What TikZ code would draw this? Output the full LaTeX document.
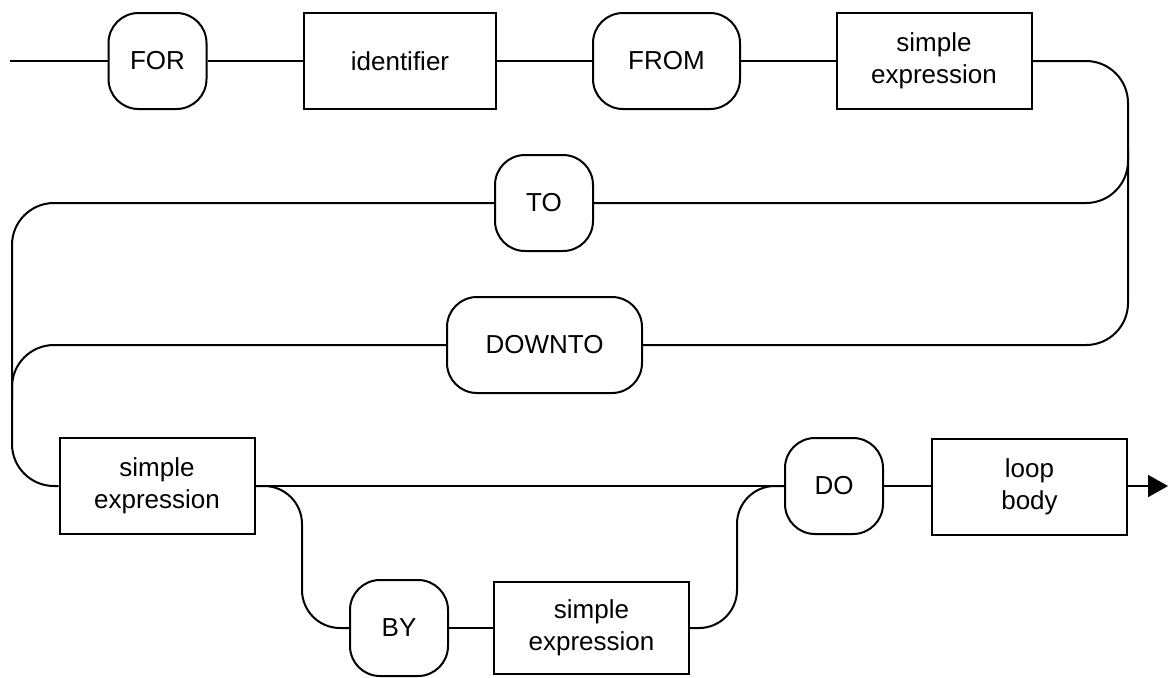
\documentclass[tikz,border=0pt]{standalone}
\usepackage{fontspec}
\setmainfont{Liberation Sans}
\usetikzlibrary{arrows.meta}
\begin{document}
\begin{tikzpicture}[x=0.5pt, y=-0.5pt,
    every node/.style={font=\fontsize{13pt}{16pt}\selectfont, align=center, inner sep=0pt},
    kw/.style={draw, line width=1pt, rounded corners=15pt, minimum width=49pt, minimum height=48pt},
    kwwide/.style={kw, minimum width=97.5pt},
    nt/.style={draw, line width=1pt, minimum width=97.5pt, minimum height=48pt},
    wire/.style={line width=1pt},
    curvewire/.style={wire, rounded corners=21pt},
    smallcurve/.style={wire, rounded corners=19pt}]
  \useasboundingbox (0,0) rectangle (1169,677);

  % top row
  \node[kw] (for) at (157.5,61) {FOR};
  \node[nt, minimum width=96pt] (ident) at (400,61) {identifier};
  \node[kw, minimum width=73.5pt] (from) at (666.5,61) {FROM};
  \node[nt] (se1) at (934,61) {simple\\expression};

  % TO / DOWNTO alternatives
  \node[kw] (to) at (544,203) {TO};
  \node[kwwide] (downto) at (544.5,345) {DOWNTO};

  % final part
  \node[nt] (se2) at (157,486) {simple\\expression};
  \node[kw] (do) at (834,486) {DO};
  \node[nt] (body) at (1029.5,487) {loop\\body};

  % optional step
  \node[kw] (by) at (399,628) {BY};
  \node[nt, minimum height=46pt] (se3) at (591.5,628) {simple\\expression};

  \coordinate (start) at (10,61);
  \coordinate (finish) at (1168,486);

  % straight connectors
  \draw[wire] (start) -- (for.west);
  \draw[wire] (for.east) -- (ident.west);
  \draw[wire] (ident.east) -- (from.west);
  \draw[wire] (from.east) -- (se1.west);
  \draw[wire] (se2.east) -- (do.west);
  \draw[wire] (by.east) -- (se3.west);
  \draw[wire] (do.east) -- (do.east -| body.west);
  \draw[wire, -{Triangle[length=10pt, width=11pt]}] (body.east |- finish) -- (finish);

  % right-hand return to TO / DOWNTO
  \draw[curvewire] (se1.east) -- (1128,61) -- (1128,345) -- (downto.east);
  \draw[curvewire] (1128,150) -- (1128,203) -- (to.east);

  % left-hand descent to the final expression
  \draw[curvewire] (to.west) -- (12,203) -- (12,486) -- (se2.west);
  \draw[curvewire] (downto.west) -- (12,345) -- (12,400);

  % BY branch
  \draw[smallcurve] (se2.east) -- (302,486) -- (302,628) -- (by.west);
  \draw[smallcurve] (se3.east) -- (737,628) -- (737,486) -- (do.west);
\end{tikzpicture}
\end{document}
